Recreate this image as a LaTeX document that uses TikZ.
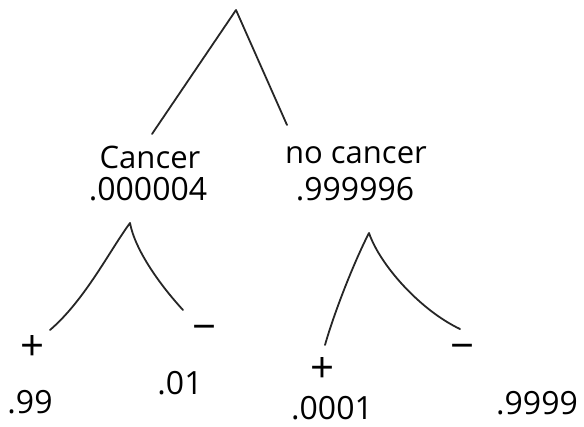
\documentclass[tikz,border=0pt]{standalone}
\usepackage{fontspec}
\setmainfont{Open Sans}
\begin{document}
\begin{tikzpicture}[x=1pt,y=-1pt,
  branch/.style={line width=1.8pt,line cap=round,line join=round,black!85},
  lbl/.style={inner sep=0pt,font=\fontsize{31}{33}\selectfont},
  sgn/.style={inner sep=0pt,font=\fontsize{42}{44}\selectfont},
  num/.style={inner sep=0pt,font=\fontsize{32}{34}\selectfont}]
\useasboundingbox (0,0) rectangle (584,427);
\coordinate (root) at (236,10);
\coordinate (rl) at (152,134);
\coordinate (rr) at (287,125);
\node[lbl] (cancer) at (150,157) {Cancer};
\node[num] (pc) at (148,189) {.000004};
\node[lbl] (nocancer) at (356,155) {no cancer};
\node[num] (pn) at (355,189) {.999996};
\coordinate (a1) at (130,223);
\coordinate (a1l) at (50,330);
\coordinate (a1r) at (183,310);
\node[sgn] (p1) at (33,348) {+};
\node[sgn] (m1) at (205,333) {−};
\node[num] (v1) at (30,402) {.99};
\node[num] (v2) at (180,383) {.01};
\coordinate (a2) at (369,233);
\coordinate (a2l) at (325,345);
\coordinate (a2r) at (460,329);
\node[sgn] (p2) at (323,370) {+};
\node[sgn] (m2) at (463,352) {−};
\node[num] (v3) at (332,408) {.0001};
\node[num] (v4) at (537,403) {.9999};
\draw[branch] (rl) -- (root) -- (rr);
\draw[branch] (a1l) .. controls (85,300) and (110,250) .. (a1) .. controls (135,250) and (160,285) .. (a1r);
\draw[branch] (a2l) .. controls (335,310) and (355,260) .. (a2) .. controls (380,265) and (420,310) .. (a2r);
\end{tikzpicture}
\end{document}
